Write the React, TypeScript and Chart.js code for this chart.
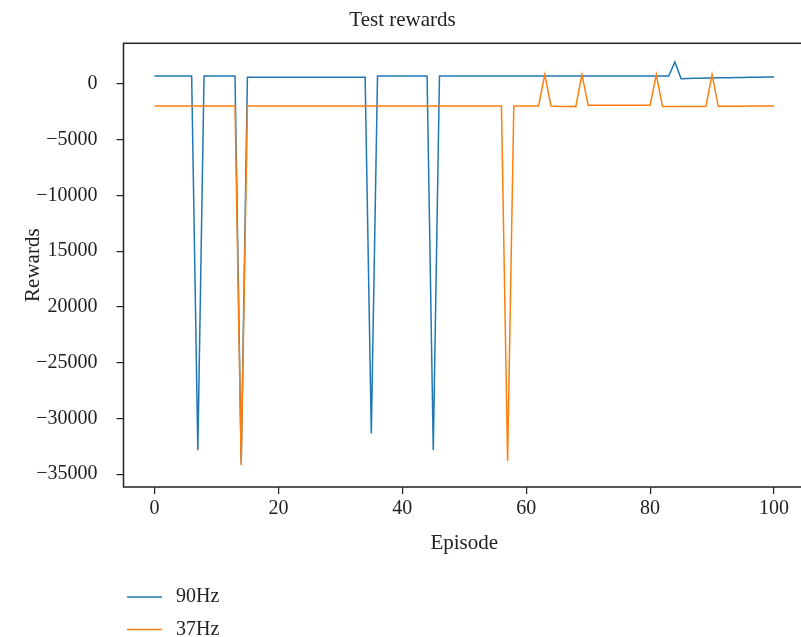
import React, { useEffect, useRef } from "react";
import { Chart, registerables } from "chart.js";
Chart.register(...registerables);

const chartTitle = "Test rewards";
const xTitle = "Episode";
const yTitle = "Rewards";

const episodes: number[] = Array.from({ length: 101 }, (_, i) => i);

const seriesLabels = ["90Hz", "37Hz"];
const seriesColors = ["#1f77b4", "#ff7f0e"];

// 90Hz rewards, episodes 0..100
const rewards90Hz: number[] = [
  720, 720, 720, 720, 720, 720, 720, // 0-6
  -32860, // 7
  720, 720, 720, 720, 720, 720, // 8-13
  -34000, // 14
  600, 600, 600, 600, 600, 600, 600, 600, 600, 600,
  600, 600, 600, 600, 600, 600, 600, 600, 600, 600, // 15-34
  -31360, // 35
  720, 720, 720, 720, 720, 720, 720, 720, 720, // 36-44
  -32830, // 45
  720, 720, 720, 720, 720, 720, 720, 720, 720, 720,
  720, 720, 720, 720, 720, 720, 720, 720, 720, 720,
  720, 720, 720, 720, 720, 720, 720, 720, 720, 720,
  720, 720, 720, 720, 720, 720, 720, 720, // 46-83
  1975, // 84
  480, // 85
  500, 505, 520, 530, 535, 550, 555, 565, 580, 585, 600, 605, 615, 625, 630, // 86-100
];

// 37Hz rewards, episodes 0..100
const rewards37Hz: number[] = [
  -1975, -1975, -1975, -1975, -1975, -1975, -1975, -1975, -1975, -1975,
  -1975, -1975, -1975, -1975, // 0-13
  -34170, // 14
  -1975, -1975, -1975, -1975, -1975, -1975, -1975, -1975, -1975, -1975,
  -1975, -1975, -1975, -1975, -1975, -1975, -1975, -1975, -1975, -1975,
  -1975, -1975, -1975, -1975, -1975, -1975, -1975, -1975, -1975, -1975,
  -1975, -1975, -1975, -1975, -1975, -1975, -1975, -1975, -1975, -1975,
  -1975, -1975, // 15-56
  -33820, // 57
  -1975, -1975, -1975, -1975, -1975, // 58-62
  835, // 63
  -1975, -2000, -2010, -2020, -2030, // 64-68
  835, // 69
  -1900, -1900, -1900, -1900, -1900, -1900, -1900, -1900, -1900, -1900, -1900, // 70-80
  835, // 81
  -2030, -2030, -2030, -2030, -2030, -2030, -2030, -2030, // 82-89
  835, // 90
  -2000, -2000, -1995, -1990, -1990, -1985, -1980, -1980, -1975, -1975, // 91-100
];

const xTickValues = [0, 20, 40, 60, 80, 100];
const xTickLabels = ["0", "20", "40", "60", "80", "100"];
const yTickValues = [0, -5000, -10000, -15000, -20000, -25000, -30000, -35000];
const yTickLabels = ["0", "\u22125000", "\u221210000", "15000", "20000", "\u221225000", "\u221230000", "\u221235000"];

const FONT = "'Liberation Serif', 'DejaVu Serif', serif";
const TEXT = "#222222";

const framePlugin = {
  id: "frame",
  afterDatasetsDraw(chart: any) {
    const { ctx, chartArea } = chart;
    ctx.save();
    ctx.strokeStyle = "#222222";
    ctx.lineWidth = 1.5;
    ctx.strokeRect(chartArea.left, chartArea.top, chartArea.right - chartArea.left, chartArea.bottom - chartArea.top);
    ctx.restore();
  },
};

const legendPlugin = {
  id: "bottomLegend",
  afterDraw(chart: any) {
    const { ctx } = chart;
    chart.data.datasets.forEach((ds: any, i: number) => {
      const y = 597 + i * 32.5;
      ctx.save();
      ctx.strokeStyle = ds.borderColor;
      ctx.lineWidth = 1.5;
      ctx.beginPath();
      ctx.moveTo(127, y);
      ctx.lineTo(162, y);
      ctx.stroke();
      ctx.fillStyle = TEXT;
      ctx.font = `20px ${FONT}`;
      ctx.textBaseline = "middle";
      ctx.textAlign = "left";
      ctx.fillText(ds.label, 176, y);
      ctx.restore();
    });
  },
};

export default function App() {
  const canvasRef = useRef<HTMLCanvasElement | null>(null);

  useEffect(() => {
    const canvas = canvasRef.current;
    if (!canvas) return;
    const series = [rewards90Hz, rewards37Hz];
    const chart = new Chart(canvas, {
      type: "line",
      data: {
        datasets: series.map((vals, i) => ({
          label: seriesLabels[i],
          data: episodes.map((e, j) => ({ x: e, y: vals[j] })),
          borderColor: seriesColors[i],
          backgroundColor: seriesColors[i],
          borderWidth: 1.5,
          pointRadius: 0,
          tension: 0,
          fill: false,
          order: i === 0 ? 1 : 0,
        })),
      },
      options: {
        animation: false,
        responsive: false,
        devicePixelRatio: 1,
        layout: { padding: { left: 0, right: 1, top: 0, bottom: 80 } },
        plugins: {
          legend: { display: false },
          tooltip: { enabled: false },
          title: {
            display: true,
            text: chartTitle,
            color: TEXT,
            font: { family: FONT, size: 21, weight: "normal" },
            padding: { top: 7.5, bottom: 10.6 },
          },
        },
        scales: {
          x: {
            type: "linear",
            min: -5,
            max: 105,
            afterBuildTicks: (scale: any) => {
              scale.ticks = xTickValues.map((v) => ({ value: v }));
            },
            afterFit: (scale: any) => {
              scale.height = 70;
            },
            ticks: {
              color: TEXT,
              font: { family: FONT, size: 20 },
              padding: 3,
              maxRotation: 0,
              autoSkip: false,
              callback: (value: any) => xTickLabels[xTickValues.indexOf(Number(value))] ?? "",
            },
            grid: {
              drawOnChartArea: false,
              drawTicks: true,
              tickLength: 7,
              color: "#222222",
              lineWidth: 1.2,
            },
            border: { display: false },
            title: {
              display: true,
              text: xTitle,
              color: TEXT,
              font: { family: FONT, size: 21 },
              padding: { top: 0, bottom: 1.4 },
            },
          },
          y: {
            type: "linear",
            min: -36150,
            max: 3650,
            afterBuildTicks: (scale: any) => {
              scale.ticks = yTickValues.map((v) => ({ value: v }));
            },
            afterFit: (scale: any) => {
              scale.width = 123.5;
            },
            ticks: {
              color: TEXT,
              font: { family: FONT, size: 20 },
              padding: 19,
              autoSkip: false,
              callback: (value: any) => yTickLabels[yTickValues.indexOf(Number(value))] ?? "",
            },
            grid: {
              drawOnChartArea: false,
              drawTicks: true,
              tickLength: 7,
              color: "#222222",
              lineWidth: 1.2,
            },
            border: { display: false },
            title: {
              display: true,
              text: yTitle,
              color: TEXT,
              font: { family: FONT, size: 21 },
              padding: { top: 20.4, bottom: 0 },
            },
          },
        },
      } as any,
      plugins: [framePlugin, legendPlugin],
    });
    return () => chart.destroy();
  }, []);

  return (
    <div style={{ position: "fixed", left: 0, top: 0, width: 806, height: 637, background: "#ffffff" }}>
      <canvas ref={canvasRef} width={806} height={637} style={{ width: 806, height: 637, display: "block" }} />
    </div>
  );
}
